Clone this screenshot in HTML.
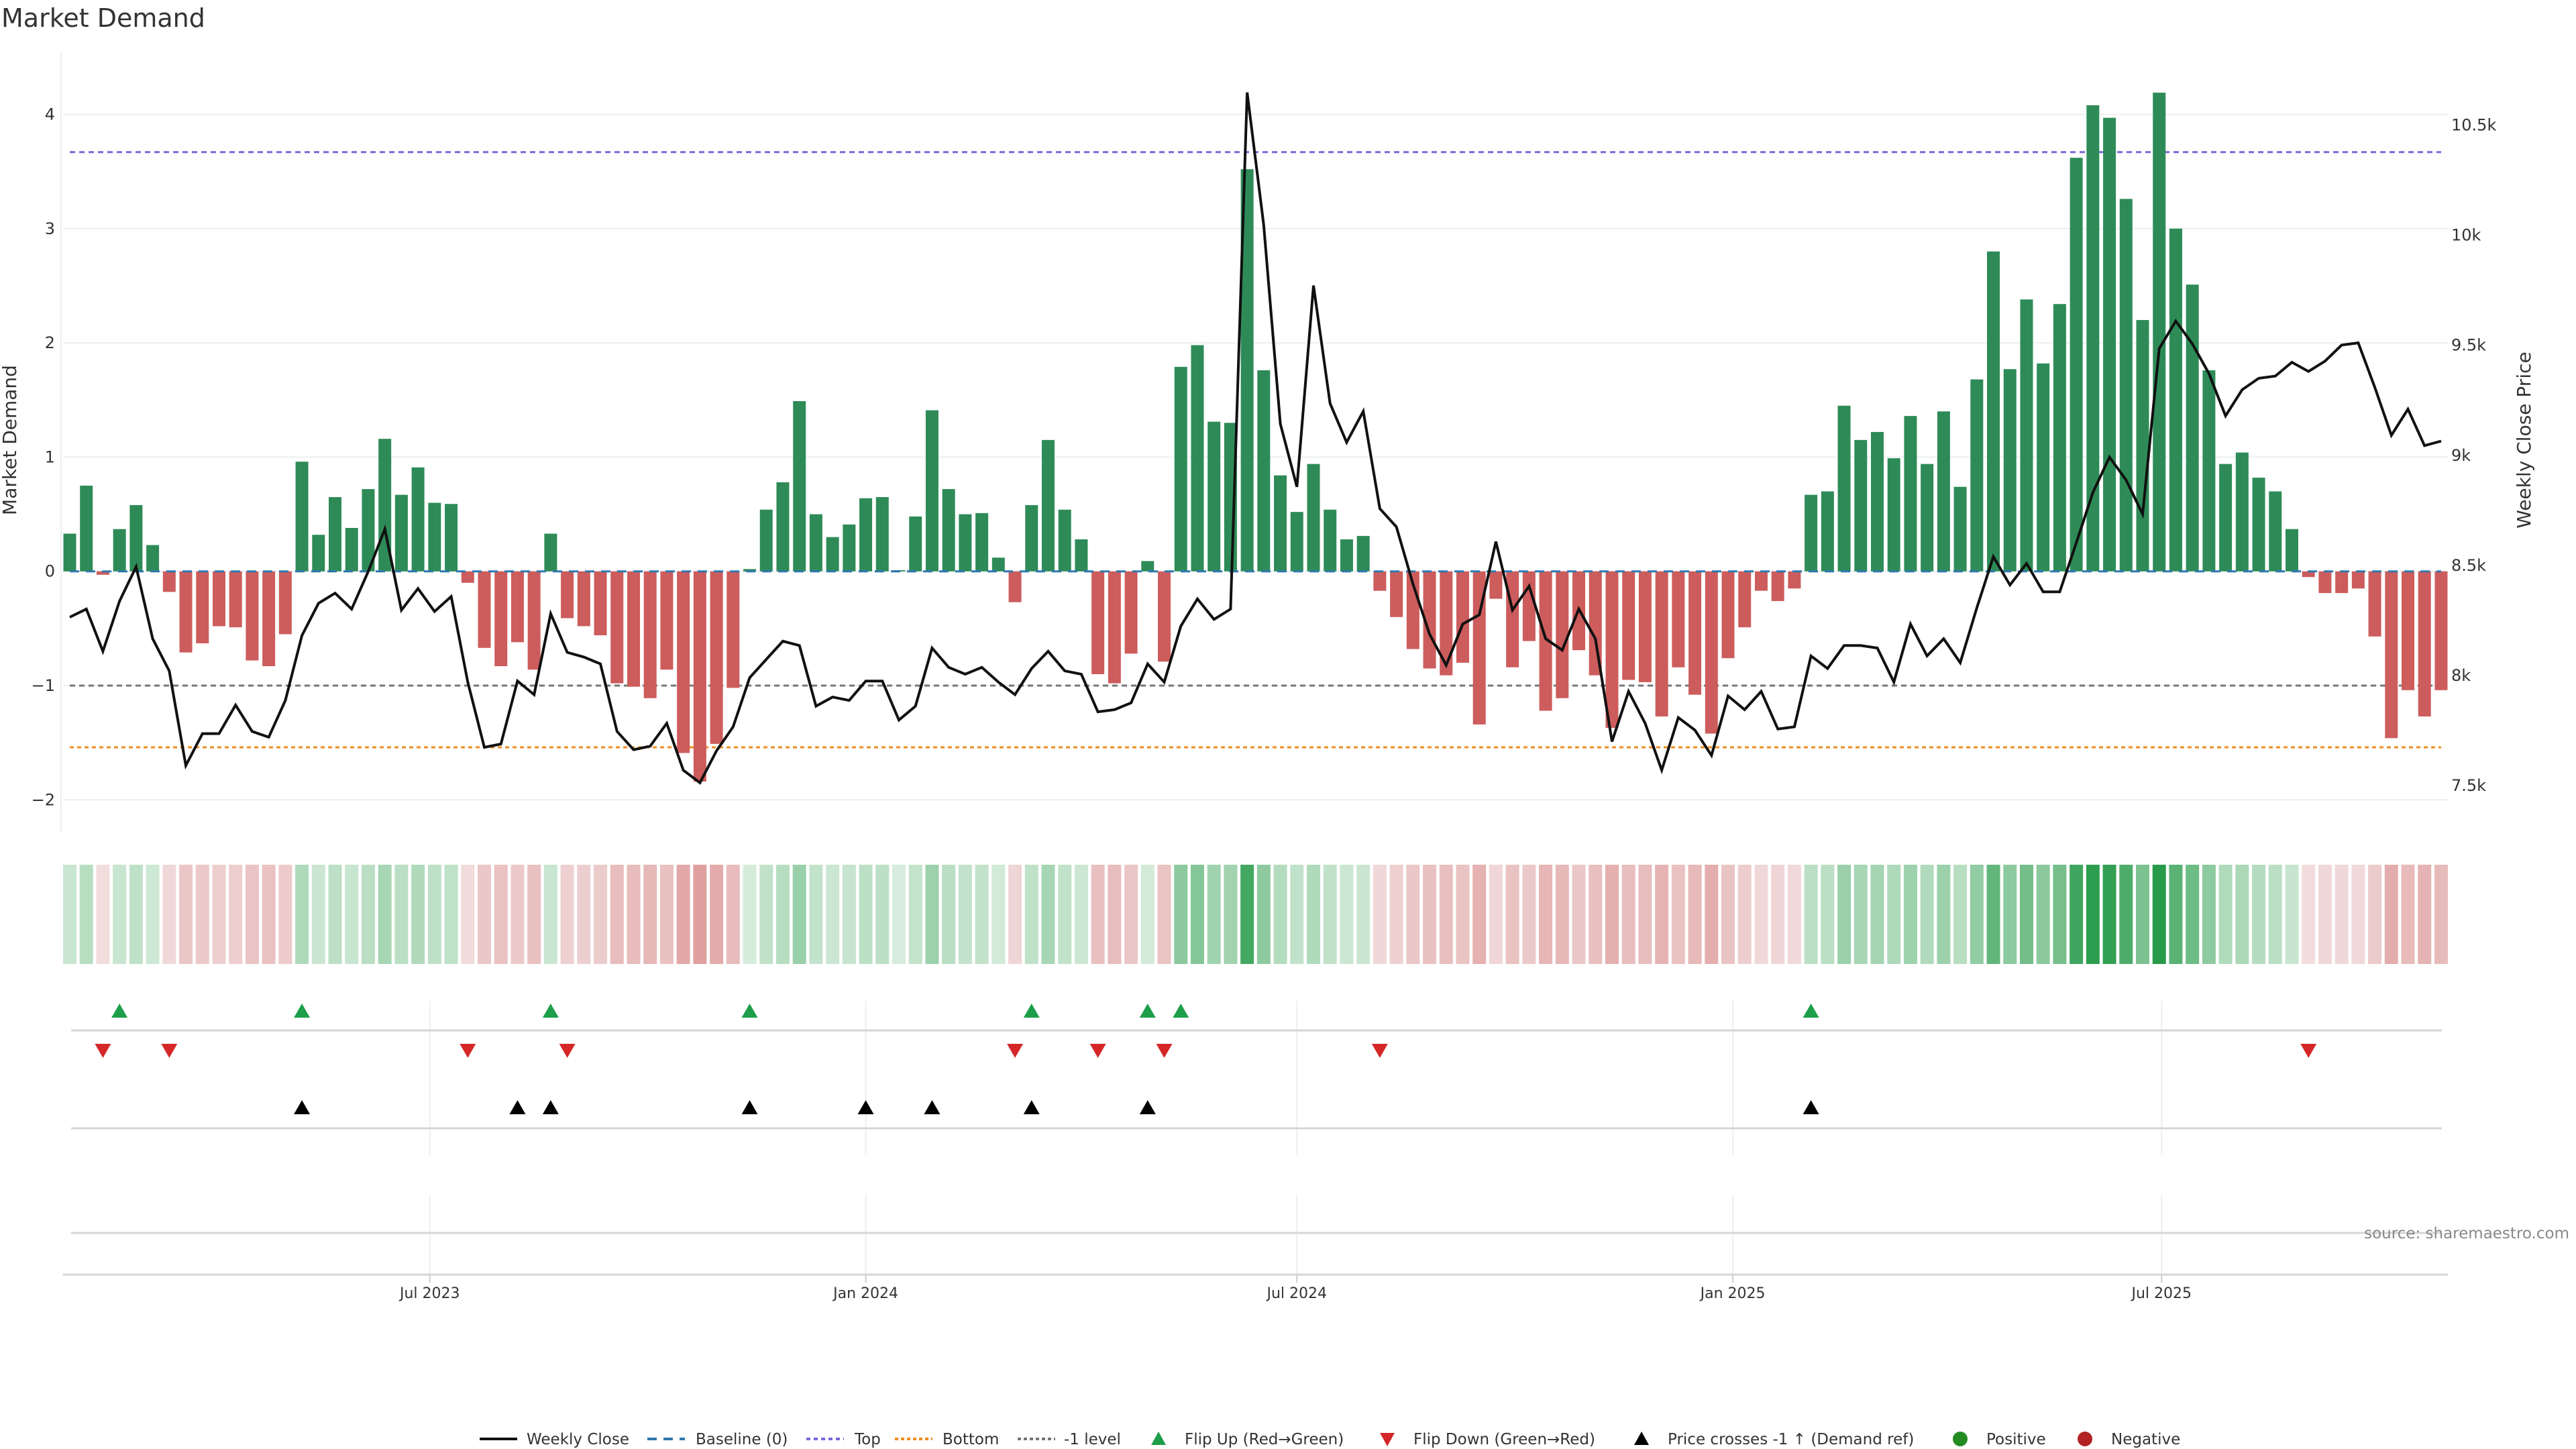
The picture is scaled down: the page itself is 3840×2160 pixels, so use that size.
<!DOCTYPE html>
<html><head><meta charset="utf-8"><title>Market Demand</title>
<style>
html,body{margin:0;padding:0;background:#fff;}
svg{display:block;font-family:"DejaVu Sans","Liberation Sans",sans-serif;}
</style></head>
<body>
<svg id="chart" width="3840" height="2160" viewBox="0 0 3840 2160" xmlns="http://www.w3.org/2000/svg">
<text x="2" y="40" font-size="38" fill="#333">Market Demand</text>
<g id="grid"></g>
<g id="levels"></g>
<g id="bars"></g>
<g id="baseline"></g>
<g id="price"></g>
<g id="axes"></g>
<g id="heat"></g>
<g id="lower"></g>
<g id="legend"></g>
<text x="3830" y="1846" font-size="23" fill="#888" text-anchor="end">source: sharemaestro.com</text>
<text transform="translate(24,656) rotate(-90)" font-size="28" fill="#333" text-anchor="middle">Market Demand</text>
<text transform="translate(3772,656) rotate(-90)" font-size="28" fill="#333" text-anchor="middle">Weekly Close Price</text>
</svg>
<script>
const demand = [0.33,0.75,-0.03,0.37,0.58,0.23,-0.18,-0.71,-0.63,-0.48,-0.49,-0.78,-0.83,-0.55,0.96,0.32,0.65,0.38,0.72,1.16,0.67,0.91,0.60,0.59,-0.10,-0.67,-0.83,-0.62,-0.86,0.33,-0.41,-0.48,-0.56,-0.98,-1.01,-1.11,-0.86,-1.59,-1.84,-1.51,-1.02,0.02,0.54,0.78,1.49,0.50,0.30,0.41,0.64,0.65,0.01,0.48,1.41,0.72,0.50,0.51,0.12,-0.27,0.58,1.15,0.54,0.28,-0.90,-0.98,-0.72,0.09,-0.79,1.79,1.98,1.31,1.30,3.52,1.76,0.84,0.52,0.94,0.54,0.28,0.31,-0.17,-0.40,-0.68,-0.85,-0.91,-0.80,-1.34,-0.24,-0.84,-0.61,-1.22,-1.11,-0.69,-0.91,-1.37,-0.95,-0.97,-1.27,-0.84,-1.08,-1.42,-0.76,-0.49,-0.17,-0.26,-0.15,0.67,0.70,1.45,1.15,1.22,0.99,1.36,0.94,1.40,0.74,1.68,2.80,1.77,2.38,1.82,2.34,3.62,4.08,3.97,3.26,2.20,4.19,3.00,2.51,1.76,0.94,1.04,0.82,0.70,0.37,-0.05,-0.19,-0.19,-0.15,-0.57,-1.46,-1.04,-1.27,-1.04];
const closePrice = [8262,8299,8107,8335,8491,8164,8018,7588,7733,7733,7863,7743,7717,7884,8179,8325,8371,8299,8470,8662,8294,8392,8288,8356,7967,7671,7686,7972,7910,8278,8102,8081,8050,7743,7660,7676,7780,7567,7510,7655,7764,7987,8070,8153,8133,7858,7899,7884,7972,7972,7795,7858,8122,8034,8003,8034,7967,7910,8029,8107,8018,8003,7832,7842,7873,8050,7967,8221,8345,8252,8299,10645,10043,9140,8854,9768,9233,9056,9197,8755,8672,8413,8185,8044,8231,8273,8605,8294,8403,8164,8112,8299,8164,7697,7925,7780,7567,7806,7749,7634,7904,7842,7925,7754,7764,8086,8029,8133,8133,8122,7967,8231,8086,8164,8055,8304,8537,8408,8506,8377,8377,8600,8828,8989,8885,8730,9482,9607,9503,9368,9176,9295,9347,9357,9420,9378,9425,9498,9508,9306,9088,9207,9041,9062];
const flipUpIdx = [3,14,29,41,58,65,67,105];
const flipDownIdx = [2,6,24,30,57,62,66,79,135];
const crossIdx = [14,27,29,41,48,52,58,65,105];
const leftTicks = [4,3,2,1,0,-1,-2];
const leftTickLabels = ["4","3","2","1","0","\u22121","\u22122"];
const rightTicks = [10500,10000,9500,9000,8500,8000,7500];
const rightTickLabels = ["10.5k","10k","9.5k","9k","8.5k","8k","7.5k"];
const levelTop = 3.67, levelMinus1 = -1, levelBottom = -1.54;
const startDate = "2023-01-30";
const dateTicks = ["2023-07-01","2024-01-01","2024-07-01","2025-01-01","2025-07-01"];
const dateTickLabels = ["Jul 2023","Jan 2024","Jul 2024","Jan 2025","Jul 2025"];

const NS = "http://www.w3.org/2000/svg";
const X0 = 104, STEP = 24.72;
const xi = i => X0 + i * STEP;
const xd = d => X0 + (Date.parse(d) - Date.parse(startDate)) / 86400000 / 7 * STEP;
const yL = v => 851.7 - 170.3 * v;
const yR = p => 185.5 + (10500 - p) / 500 * 164.1;
function mk(tag, attrs, parent) {
  const e = document.createElementNS(NS, tag);
  for (const k in attrs) e.setAttribute(k, attrs[k]);
  parent.appendChild(e);
  return e;
}
const $ = id => document.getElementById(id);
const xEnd = xi(demand.length - 1);

// gridlines + left/right ticks
leftTicks.forEach((t, k) => {
  const l = mk("line", {x1: 94, x2: 3649, y1: yL(t), y2: yL(t), stroke: "#eceff2", "stroke-width": 2}, $("grid"));
  
  
  const tx = mk("text", {x: 82, y: yL(t) + 8, "font-size": 24, fill: "#333", "text-anchor": "end"}, $("axes"));
  tx.textContent = leftTickLabels[k];
  
  
});
rightTicks.forEach((t, k) => {
  const tx = mk("text", {x: 3654, y: yR(t) + 9, "font-size": 24, fill: "#333"}, $("axes"));
  tx.textContent = rightTickLabels[k];
  
  
});
const spine = mk("line", {x1: 91, x2: 91, y1: 78, y2: 1240, stroke: "#eceff2", "stroke-width": 2}, $("axes"));



// reference levels
[[levelTop, "#7b68d8", "8,6"], [levelMinus1, "#777", "8,6"], [levelBottom, "#f08c1e", "6,5"]].forEach(([v, c, d]) => {
  const l = mk("line", {x1: X0, x2: xEnd, y1: yL(v), y2: yL(v), stroke: c, "stroke-width": 3, "stroke-dasharray": d}, $("levels"));
  
  
});

// bars
demand.forEach((v, i) => {
  const y0 = yL(0), y1 = yL(v);
  const r = mk("rect", {x: xi(i) - 9.5, width: 19, y: Math.min(y0, y1), height: Math.max(1, Math.abs(y1 - y0)), fill: v >= 0 ? "#2e8b57" : "#cd5c5c"}, $("bars"));
  
  
});
const bl = mk("line", {x1: X0, x2: xEnd, y1: yL(0), y2: yL(0), stroke: "#2f78b0", "stroke-width": 3, "stroke-dasharray": "14,10"}, $("baseline"));



// price line
const pts = closePrice.map((p, i) => xi(i).toFixed(1) + "," + yR(p).toFixed(1)).join(" ");
const pl = mk("polyline", {points: pts, fill: "none", stroke: "#111", "stroke-width": 4, "stroke-linejoin": "miter"}, $("price"));



// heatmap
function heatColor(v) {
  if (v >= 0) {
    const t = Math.min(1, v / 4.2);
    return `rgb(${Math.round(215 - 175 * t)},${Math.round(236 - 81 * t)},${Math.round(220 - 145 * t)})`;
  }
  const t = Math.min(1, -v / 4.2);
  return `rgb(${Math.round(242 - 42 * t)},${Math.round(222 - 142 * t)},${Math.round(222 - 142 * t)})`;
}
demand.forEach((v, i) => {
  const r = mk("rect", {x: xi(i) - 10, width: 20, y: 1289, height: 148, fill: heatColor(v)}, $("heat"));
  
  
});

// lower panels
const low = $("lower");
dateTicks.forEach((d, k) => {
  const x = xd(d);
  [[1492, 1722], [1782, 1900]].forEach(([a, b]) => {
    const g = mk("line", {x1: x, x2: x, y1: a, y2: b, stroke: "#eceff2", "stroke-width": 2}, low);
    
    
  });
  const tk = mk("line", {x1: x, x2: x, y1: 1900, y2: 1912, stroke: "#ccc", "stroke-width": 2}, low);
  
  
  const t = mk("text", {x: x, y: 1935, "font-size": 22, fill: "#333", "text-anchor": "middle"}, low);
  t.textContent = dateTickLabels[k];
  
  
});
[1536, 1682, 1838].forEach(y => {
  const l = mk("line", {x1: 106, x2: 3640, y1: y, y2: y, stroke: "#d6d6d6", "stroke-width": 3}, low);
  
  
});
const xa = mk("line", {x1: 94, x2: 3649, y1: 1900, y2: 1900, stroke: "#d6d6d6", "stroke-width": 3}, low);


function tri(x, y, up, color, name) {
  const p = up ? `${x},${y - 11} ${x + 12},${y + 10} ${x - 12},${y + 10}` : `${x - 12},${y - 10} ${x + 12},${y - 10} ${x},${y + 11}`;
  const e = mk("polygon", {points: p, fill: color}, low);
  
  
}
flipUpIdx.forEach(i => tri(xi(i), 1507, true, "#1e9e4a", "flip-up-marker"));
flipDownIdx.forEach(i => tri(xi(i), 1566, false, "#d62728", "flip-down-marker"));
crossIdx.forEach(i => tri(xi(i), 1651, true, "#000", "price-cross-marker"));

// legend
const lg = $("legend");
const LY = 2145;
function ltext(x, s) {
  const t = mk("text", {x: x, y: LY + 8, "font-size": 23, fill: "#333"}, lg);
  t.textContent = s;
  
  
}
function lline(x, c, d, w) {
  const l = mk("line", {x1: x, x2: x + 56, y1: LY, y2: LY, stroke: c, "stroke-width": w}, lg);
  if (d) l.setAttribute("stroke-dasharray", d);
  
  
}
lline(715, "#111", null, 4); ltext(785, "Weekly Close");
lline(965, "#2f78b0", "14,10", 4); ltext(1037, "Baseline (0)");
lline(1202, "#7b68d8", "6,5", 4); ltext(1274, "Top");
lline(1334, "#f08c1e", "5,4", 4); ltext(1405, "Bottom");
lline(1517, "#777", "5,4", 4); ltext(1586, "-1 level");
function ltri(x, up, c) {
  const y = LY;
  const p = up ? `${x},${y - 11} ${x + 11},${y + 9} ${x - 11},${y + 9}` : `${x - 11},${y - 9} ${x + 11},${y - 9} ${x},${y + 11}`;
  const e = mk("polygon", {points: p, fill: c}, lg);
  
  
}
ltri(1727, true, "#1e9e4a"); ltext(1766, "Flip Up (Red\u2192Green)");
ltri(2068, false, "#d62728"); ltext(2107, "Flip Down (Green\u2192Red)");
ltri(2447, true, "#000"); ltext(2486, "Price crosses -1 \u2191 (Demand ref)");
function lcirc(x, c) {
  const e = mk("circle", {cx: x, cy: LY, r: 11, fill: c}, lg);
  
  
}
lcirc(2922, "#228b22"); ltext(2961, "Positive");
lcirc(3108, "#b22222"); ltext(3147, "Negative");
</script>
</body></html>
